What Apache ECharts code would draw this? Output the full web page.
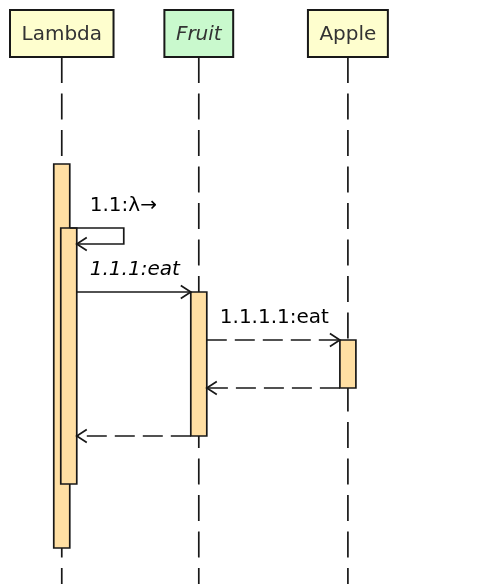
<!DOCTYPE html>
<html>
<head>
<meta charset="utf-8">
<title>Sequence</title>
<script src="https://cdn.jsdelivr.net/npm/echarts@6/dist/echarts.min.js"></script>
<style>
  html, body { margin: 0; padding: 0; background: #fff; }
  #seq { width: 482px; height: 584px; }
</style>
</head>
<body>
<div id="seq"></div>
<script>
// participants, left to right
var participants = ['Lambda', 'Fruit', 'Apple'];
var participantKind = ['participant', 'abstract', 'participant'];

// messages, one per time row
var msgFrom  = [0, 0, 1, 2, 1];
var msgTo    = [0, 1, 2, 1, 0];
var msgText  = ['1.1:λ→', '1.1.1:eat', '1.1.1.1:eat', '', ''];
var msgArrow = ['->', '->', '-->', '-->', '-->'];
var msgTime  = [4, 8, 11, 14, 17];

// activation bars (time rows)
var actOwner = [0, 0, 1, 2];
var actStart = [0, 4, 8, 11];
var actEnd   = [24, 20, 17, 14];

// layout / style
var W = 482, H = 584;
var ROW = 16, FIRST_ROW = 164;
var BOX_TOP = 10, BOX_H = 47, BOX_PAD = 11.5, BOX_LEFT = 10, BOX_GAP = 20;
var BAR_HALF = 8, NEST = 7, SELF_W = 54;
var LABEL_PAD = 13, LABEL_MARGIN = 24, LABEL_RISE = 22;
var HEAD_LEN = 10, HEAD_HALF = 6.5;
var FONT = '20px "DejaVu Sans", sans-serif';
var INK = '#181818';
var LW = 1.7;
var FILL = { participant: '#FEFECE', abstract: '#C9F9CD' };
var BAR_FILL = '#FFDFA3';

var measure = document.createElement('canvas').getContext('2d');
function textWidth(s, italic) {
  measure.font = (italic ? 'italic ' : '') + FONT;
  return measure.measureText(s).width;
}
function isItalic(p) { return participantKind[p] === 'abstract'; }

// how deep each bar is nested in its owner's other bars
var actLevel = actOwner.map(function (p, i) {
  var n = 0;
  for (var j = 0; j < actOwner.length; j++) {
    if (j !== i && actOwner[j] === p && actStart[j] <= actStart[i] && actEnd[j] >= actEnd[i]) n++;
  }
  return n;
});

// deepest bar of p that is open at t
function barAt(p, t, withStart) {
  var best = -1;
  for (var i = 0; i < actOwner.length; i++) {
    if (actOwner[i] !== p || actEnd[i] < t) continue;
    if (withStart ? actStart[i] > t : actStart[i] >= t) continue;
    if (best < 0 || actLevel[i] > actLevel[best]) best = i;
  }
  return best;
}
function edge(p, t, side, withStart) {
  var b = barAt(p, t, withStart);
  return b < 0 ? 0 : actLevel[b] * NEST + side * BAR_HALF;
}

// header widths, then lifelines spaced so labels fit
var boxW = participants.map(function (s, p) { return textWidth(s, isItalic(p)) + 2 * BOX_PAD; });
var lifeX = [BOX_LEFT + boxW[0] / 2];
for (var p = 1; p < participants.length; p++) {
  var need = (boxW[p - 1] + boxW[p]) / 2 + BOX_GAP;
  msgText.forEach(function (txt, m) {
    var a = msgFrom[m], b = msgTo[m];
    if (Math.min(a, b) !== p - 1 || Math.max(a, b) !== p) return;
    var dir = b > a ? 1 : -1;
    var offA = edge(a, msgTime[m], dir, false), offB = edge(b, msgTime[m], -dir, true);
    var len = textWidth(txt, isItalic(b)) + LABEL_MARGIN;
    need = Math.max(need, len + dir * (offA - offB));
  });
  lifeX.push(lifeX[p - 1] + need);
}

var tMin = -FIRST_ROW / ROW, tMax = tMin + H / ROW;

var chart = echarts.init(document.getElementById('seq'));

var option = {
  animation: false,
  grid: { left: 0, right: 0, top: 0, bottom: 0 },
  xAxis: { type: 'value', min: 0, max: W, show: false },
  yAxis: { type: 'value', inverse: true, min: tMin, max: tMax, show: false },
  series: [
    {
      // lifelines
      type: 'custom',
      z: 1,
      data: participants.map(function (s, p) { return [lifeX[p], tMax]; }),
      renderItem: function (params, api) {
        var c = api.coord([lifeX[params.dataIndex], tMax]);
        return {
          type: 'line',
          shape: { x1: c[0], y1: BOX_TOP + BOX_H, x2: c[0], y2: c[1] },
          style: { stroke: INK, lineWidth: LW, lineDash: [26, 10.5] }
        };
      }
    },
    {
      // participant boxes
      type: 'custom',
      z: 2,
      data: participants.map(function (s, p) { return [lifeX[p], tMin]; }),
      renderItem: function (params, api) {
        var p = params.dataIndex;
        var c = api.coord([lifeX[p], tMin]);
        return {
          type: 'group',
          children: [
            {
              type: 'rect',
              shape: { x: c[0] - boxW[p] / 2, y: BOX_TOP, width: boxW[p], height: BOX_H },
              style: { fill: FILL[participantKind[p]], stroke: INK, lineWidth: 2 }
            },
            {
              type: 'text',
              style: {
                text: participants[p], x: c[0], y: BOX_TOP + BOX_H / 2 + 1,
                align: 'center', verticalAlign: 'middle',
                font: (isItalic(p) ? 'italic ' : '') + FONT, fill: '#333333'
              }
            }
          ]
        };
      }
    },
    {
      // activation bars
      type: 'custom',
      z: 3,
      data: actOwner.map(function (o, i) { return [lifeX[o], actStart[i]]; }),
      renderItem: function (params, api) {
        var i = params.dataIndex;
        var cx = lifeX[actOwner[i]] + actLevel[i] * NEST;
        var a = api.coord([cx - BAR_HALF, actStart[i]]);
        var b = api.coord([cx + BAR_HALF, actEnd[i]]);
        return {
          type: 'rect',
          shape: { x: a[0], y: a[1], width: b[0] - a[0], height: b[1] - a[1] },
          style: { fill: BAR_FILL, stroke: INK, lineWidth: LW }
        };
      }
    },
    {
      // messages
      type: 'custom',
      z: 4,
      data: msgTime.map(function (t, m) { return [lifeX[msgFrom[m]], t]; }),
      renderItem: function (params, api) {
        var m = params.dataIndex, a = msgFrom[m], b = msgTo[m], t = msgTime[m];
        var pts, labelX;
        if (a === b) {
          var xs = lifeX[a] + edge(a, t, 1, false);
          var xe = lifeX[a] + edge(a, t + 1, 1, true);
          pts = [api.coord([xs, t]), api.coord([xs + SELF_W, t]),
                 api.coord([xs + SELF_W, t + 1]), api.coord([xe, t + 1])];
          labelX = pts[3][0] + LABEL_PAD;
        } else {
          var dir = b > a ? 1 : -1;
          pts = [api.coord([lifeX[a] + edge(a, t, dir, false), t]),
                 api.coord([lifeX[b] + edge(b, t, -dir, true), t])];
          labelX = Math.min(pts[0][0], pts[1][0]) + LABEL_PAD;
        }
        var tip = pts[pts.length - 1], prev = pts[pts.length - 2];
        var d = tip[0] > prev[0] ? 1 : -1;
        var dashed = msgArrow[m] === '-->';
        return {
          type: 'group',
          children: [
            {
              type: 'polyline',
              shape: { points: pts },
              style: { fill: 'none', stroke: INK, lineWidth: LW, lineDash: dashed ? [20, 8] : null }
            },
            {
              type: 'polyline',
              shape: { points: [[tip[0] - d * HEAD_LEN, tip[1] - HEAD_HALF], tip, [tip[0] - d * HEAD_LEN, tip[1] + HEAD_HALF]] },
              style: { fill: 'none', stroke: INK, lineWidth: LW }
            },
            {
              type: 'text',
              style: {
                text: msgText[m], x: labelX, y: pts[0][1] - LABEL_RISE,
                align: 'left', verticalAlign: 'middle',
                font: (isItalic(b) ? 'italic ' : '') + FONT, fill: '#000000'
              }
            }
          ]
        };
      }
    }
  ]
};

option && chart.setOption(option);
</script>
</body>
</html>
